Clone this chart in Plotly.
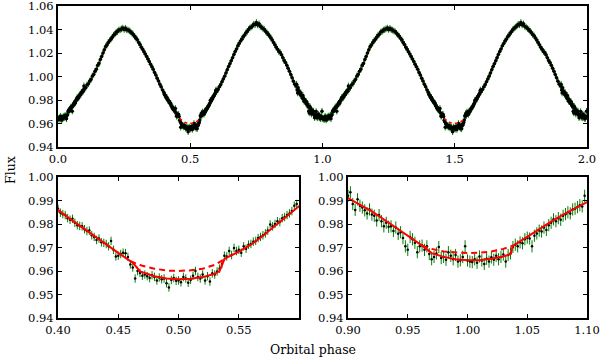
import numpy as np
import plotly.graph_objects as go

# light curve, folded on the orbital period
# fine sampling around the two eclipses, coarser elsewhere
ecl1_phase = np.round(0.400 + 0.002 * np.arange(100), 3)
ecl1_flux = [
    0.9865, 0.9848, 0.9842, 0.9838, 0.9825, 0.9818, 0.9822, 0.9805, 0.9795, 0.9792,
    0.9790, 0.9778, 0.9770, 0.9772, 0.9752, 0.9745, 0.9732, 0.9738, 0.9722, 0.9720,
    0.9715, 0.9705, 0.9728, 0.9690, 0.9662, 0.9665, 0.9672, 0.9678, 0.9676, 0.9660,
    0.9628, 0.9615, 0.9568, 0.9600, 0.9592, 0.9580, 0.9585, 0.9578, 0.9570, 0.9582,
    0.9575, 0.9560, 0.9572, 0.9565, 0.9568, 0.9548, 0.9530, 0.9562, 0.9570, 0.9558,
    0.9560, 0.9552, 0.9575, 0.9568, 0.9550, 0.9562, 0.9580, 0.9600, 0.9575, 0.9568,
    0.9585, 0.9560, 0.9578, 0.9555, 0.9590, 0.9585, 0.9598, 0.9610, 0.9630, 0.9665,
    0.9662, 0.9685, 0.9668, 0.9698, 0.9685, 0.9690, 0.9678, 0.9705, 0.9695, 0.9712,
    0.9715, 0.9725, 0.9728, 0.9740, 0.9745, 0.9752, 0.9760, 0.9772, 0.9798, 0.9790,
    0.9800, 0.9812, 0.9808, 0.9825, 0.9830, 0.9838, 0.9845, 0.9855, 0.9878, 0.9885,
]

ecl2_phase = np.round(0.900 + 0.002 * np.arange(100), 3)
ecl2_flux = [
    0.9920, 0.9935, 0.9885, 0.9860, 0.9905, 0.9878, 0.9870, 0.9858, 0.9845, 0.9862,
    0.9840, 0.9835, 0.9815, 0.9838, 0.9812, 0.9790, 0.9805, 0.9788, 0.9790, 0.9770,
    0.9785, 0.9758, 0.9765, 0.9740, 0.9705, 0.9690, 0.9745, 0.9735, 0.9720, 0.9680,
    0.9705, 0.9708, 0.9690, 0.9705, 0.9672, 0.9650, 0.9660, 0.9675, 0.9702, 0.9655,
    0.9660, 0.9648, 0.9680, 0.9665, 0.9650, 0.9668, 0.9640, 0.9645, 0.9660, 0.9705,
    0.9645, 0.9640, 0.9638, 0.9650, 0.9635, 0.9662, 0.9645, 0.9630, 0.9652, 0.9640,
    0.9658, 0.9648, 0.9665, 0.9650, 0.9660, 0.9670, 0.9640, 0.9668, 0.9675, 0.9702,
    0.9712, 0.9705, 0.9722, 0.9718, 0.9735, 0.9742, 0.9738, 0.9705, 0.9750, 0.9760,
    0.9772, 0.9768, 0.9785, 0.9775, 0.9795, 0.9805, 0.9820, 0.9812, 0.9825, 0.9818,
    0.9835, 0.9842, 0.9850, 0.9845, 0.9862, 0.9865, 0.9872, 0.9880, 0.9875, 0.9920,
]

rise_phase = np.round(0.100 + 0.005 * np.arange(60), 3)
rise_flux = [
    0.9895, 0.9905, 0.9930, 0.9938, 0.9962, 0.9975, 1.0005, 1.0018, 1.0045, 1.0062,
    1.0095, 1.0110, 1.0145, 1.0170, 1.0200, 1.0228, 1.0255, 1.0268, 1.0290, 1.0305,
    1.0318, 1.0335, 1.0352, 1.0360, 1.0378, 1.0382, 1.0395, 1.0398, 1.0405, 1.0412,
    1.0400, 1.0410, 1.0398, 1.0395, 1.0388, 1.0380, 1.0368, 1.0355, 1.0342, 1.0325,
    1.0312, 1.0290, 1.0272, 1.0250, 1.0232, 1.0210, 1.0192, 1.0170, 1.0150, 1.0128,
    1.0105, 1.0082, 1.0062, 1.0035, 1.0012, 0.9985, 0.9962, 0.9935, 0.9912, 0.9885,
]

fall_phase = np.round(0.600 + 0.005 * np.arange(60), 3)
fall_flux = [
    0.9872, 0.9890, 0.9912, 0.9930, 0.9955, 0.9978, 1.0002, 1.0030, 1.0058, 1.0085,
    1.0108, 1.0135, 1.0160, 1.0188, 1.0212, 1.0235, 1.0262, 1.0280, 1.0302, 1.0318,
    1.0338, 1.0352, 1.0370, 1.0382, 1.0400, 1.0412, 1.0420, 1.0430, 1.0445, 1.0440,
    1.0460, 1.0438, 1.0448, 1.0425, 1.0420, 1.0408, 1.0400, 1.0385, 1.0372, 1.0358,
    1.0345, 1.0328, 1.0310, 1.0290, 1.0270, 1.0250, 1.0232, 1.0212, 1.0205, 1.0185,
    1.0160, 1.0135, 1.0120, 1.0095, 1.0070, 1.0045, 1.0018, 0.9990, 0.9960, 0.9935,
]

flux_err_top = 0.0028
flux_err_ecl1 = 0.0018
flux_err_ecl2 = 0.0026

# best-fit model (with eclipses)
model_phase = [
    0.000, 0.010, 0.020, 0.030, 0.036, 0.038, 0.040, 0.050, 0.060, 0.070,
    0.080, 0.090, 0.100, 0.120, 0.140, 0.160, 0.180, 0.200, 0.220, 0.240,
    0.250, 0.260, 0.280, 0.300, 0.320, 0.340, 0.360, 0.380, 0.400, 0.410,
    0.420, 0.430, 0.440, 0.450, 0.460, 0.462, 0.468, 0.475, 0.480, 0.490,
    0.500, 0.510, 0.520, 0.530, 0.534, 0.538, 0.540, 0.550, 0.560, 0.570,
    0.580, 0.590, 0.600, 0.620, 0.640, 0.660, 0.680, 0.700, 0.720, 0.740,
    0.750, 0.760, 0.780, 0.800, 0.820, 0.840, 0.860, 0.880, 0.900, 0.920,
    0.940, 0.950, 0.960, 0.962, 0.970, 0.980, 0.990, 1.000,
]
model_flux = [
    0.9646, 0.9646, 0.9652, 0.9662, 0.9672, 0.9708, 0.9713, 0.9746, 0.9778, 0.9810,
    0.9840, 0.9868, 0.9893, 0.9960, 1.0040, 1.0145, 1.0240, 1.0315, 1.0375, 1.0402,
    1.0405, 1.0403, 1.0370, 1.0310, 1.0230, 1.0150, 1.0060, 0.9960, 0.9860, 0.9822,
    0.9785, 0.9748, 0.9712, 0.9677, 0.9642, 0.9636, 0.9598, 0.9585, 0.9578, 0.9568,
    0.9565, 0.9567, 0.9574, 0.9588, 0.9600, 0.9650, 0.9657, 0.9682, 0.9712, 0.9750,
    0.9792, 0.9835, 0.9880, 0.9960, 1.0065, 1.0160, 1.0260, 1.0335, 1.0400, 1.0438,
    1.0442, 1.0438, 1.0400, 1.0345, 1.0270, 1.0210, 1.0125, 1.0020, 0.9910, 0.9854,
    0.9785, 0.9750, 0.9715, 0.9708, 0.9676, 0.9660, 0.9650, 0.9646,
]

# model without the eclipses (dashed)
noecl1_phase = [0.460, 0.465, 0.470, 0.480, 0.490, 0.500, 0.510, 0.520, 0.530, 0.538]
noecl1_flux = [0.9642, 0.9632, 0.9622, 0.9610, 0.9602, 0.9600, 0.9603, 0.9610, 0.9626, 0.9650]
noecl2_phase = [-0.038, -0.030, -0.020, -0.010, 0.000, 0.010, 0.020, 0.030, 0.038]
noecl2_flux = [0.9708, 0.9694, 0.9683, 0.9678, 0.9676, 0.9678, 0.9683, 0.9694, 0.9708]


def shifted(xs, ys, shifts):
    # repeat a curve at several whole-phase offsets, broken by gaps
    ox, oy = [], []
    for s in shifts:
        ox += [x + s for x in xs] + [None]
        oy += list(ys) + [None]
    return ox, oy


top_phase = np.concatenate([ecl2_phase % 1.0, rise_phase, ecl1_phase, fall_phase])
top_flux = np.concatenate([ecl2_flux, rise_flux, ecl1_flux, fall_flux])

fig = go.Figure()

RED = "#ff0000"
GREEN = "#008000"
FONT = "DejaVu Serif"


def points(x, y, err, xa, ya, size=2.5):
    return go.Scatter(
        x=x, y=y, mode="markers", xaxis=xa, yaxis=ya, showlegend=False,
        marker=dict(color="black", size=size),
        error_y=dict(type="constant", value=err, color=GREEN, thickness=1, width=0),
    )


# top panel
mx, my = shifted(model_phase, model_flux, [0, 1])
fig.add_trace(go.Scatter(x=mx, y=my, mode="lines", line=dict(color=RED, width=1.5),
                         xaxis="x", yaxis="y", showlegend=False))
fig.add_trace(points(np.concatenate([top_phase, top_phase + 1]),
                     np.concatenate([top_flux, top_flux]), flux_err_top, "x", "y", 3.5))
d1x, d1y = shifted(noecl1_phase, noecl1_flux, [0, 1])
fig.add_trace(go.Scatter(x=d1x, y=d1y, mode="lines", xaxis="x", yaxis="y", showlegend=False,
                         line=dict(color=RED, width=1.5, dash="3px,3px")))

# bottom left: eclipse at phase 0.5
fig.add_trace(points(ecl1_phase, ecl1_flux, flux_err_ecl1, "x2", "y2"))
fig.add_trace(go.Scatter(x=model_phase, y=model_flux, mode="lines", xaxis="x2", yaxis="y2",
                         line=dict(color=RED, width=2), showlegend=False))
fig.add_trace(go.Scatter(x=noecl1_phase, y=noecl1_flux, mode="lines", xaxis="x2", yaxis="y2",
                         line=dict(color=RED, width=2, dash="6px,4px"), showlegend=False))

# bottom right: eclipse at phase 1.0
fig.add_trace(points(ecl2_phase, ecl2_flux, flux_err_ecl2, "x3", "y3"))
fig.add_trace(go.Scatter(x=mx, y=my, mode="lines", xaxis="x3", yaxis="y3",
                         line=dict(color=RED, width=2), showlegend=False))
e2x, e2y = shifted(noecl2_phase, noecl2_flux, [1])
fig.add_trace(go.Scatter(x=e2x, y=e2y, mode="lines", xaxis="x3", yaxis="y3",
                         line=dict(color=RED, width=2, dash="6px,4px"), showlegend=False))

axis_style = dict(
    showline=True, linecolor="black", linewidth=2, mirror="ticks",
    ticks="inside", ticklen=4, tickcolor="black", tickwidth=1,
    showgrid=False, zeroline=False, automargin=False, ticklabeloverflow="allow",
    tickfont=dict(family=FONT, size=11.5, color="black"),
)

W, H = 600, 357


def xdom(a, b):
    return [a / W, b / W]


def ydom(top, bottom):
    return [1 - bottom / H, 1 - top / H]


fig.update_layout(
    width=W, height=H,
    margin=dict(l=0, r=0, t=0, b=0, autoexpand=False),
    paper_bgcolor="white", plot_bgcolor="white",
    xaxis=dict(axis_style, domain=xdom(58, 587), anchor="y", range=[0, 2],
               tickvals=[0, 0.5, 1.0, 1.5, 2.0], tickformat=".1f"),
    yaxis=dict(axis_style, domain=ydom(6, 147), anchor="x", range=[0.94, 1.06],
               tickvals=[0.94, 0.96, 0.98, 1.00, 1.02, 1.04, 1.06], tickformat=".2f"),
    xaxis2=dict(axis_style, domain=xdom(58, 299), anchor="y2", range=[0.40, 0.5999],
                tickvals=[0.40, 0.45, 0.50, 0.55], tickformat=".2f"),
    yaxis2=dict(axis_style, domain=ydom(177, 318), anchor="x2", range=[0.94, 1.00],
                tickvals=[0.94, 0.95, 0.96, 0.97, 0.98, 0.99, 1.00], tickformat=".2f"),
    xaxis3=dict(axis_style, domain=xdom(348, 587), anchor="y3", range=[0.90, 1.10],
                tickvals=[0.90, 0.95, 1.00, 1.05, 1.10], tickformat=".2f"),
    yaxis3=dict(axis_style, domain=ydom(177, 318), anchor="x3", range=[0.94, 1.00],
                tickvals=[0.94, 0.95, 0.96, 0.97, 0.98, 0.99, 1.00], tickformat=".2f"),
    annotations=[
        dict(text="Flux", x=10 / W, y=1 - 170 / H, xref="paper", yref="paper",
             xanchor="center", yanchor="middle", textangle=-90, showarrow=False,
             font=dict(family=FONT, size=12.5, color="black")),
        dict(text="Orbital phase", x=313 / W, y=1 - 349 / H, xref="paper", yref="paper",
             xanchor="center", yanchor="middle", showarrow=False,
             font=dict(family=FONT, size=12.5, color="black")),
    ],
)

# the page's default body margin would push the 600x357 figure out of the window
fig.write_html("out.html", config={"displayModeBar": False},
               post_script="document.body.style.margin = '0';")
